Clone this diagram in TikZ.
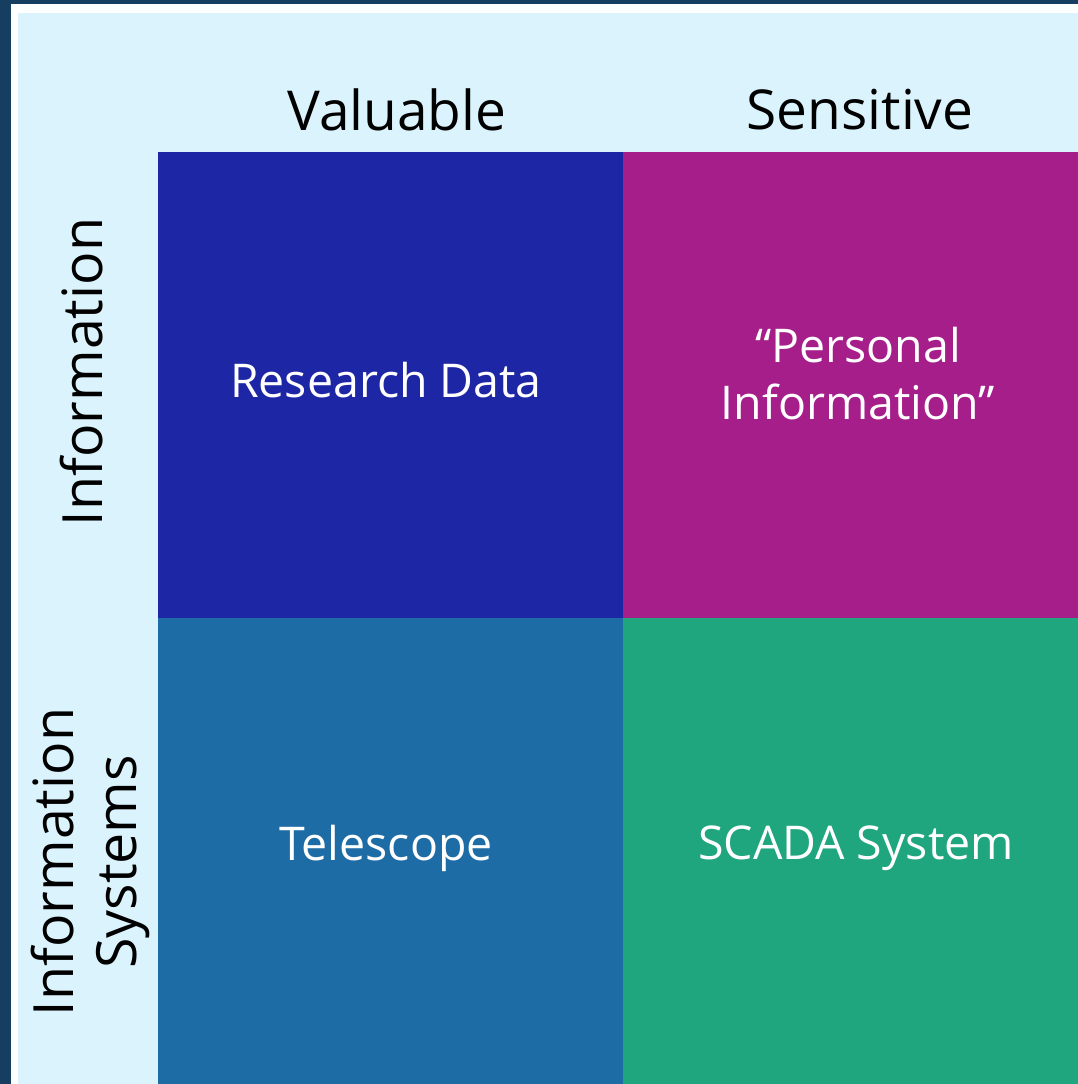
\documentclass[tikz,border=0pt]{standalone}
\usepackage{fontspec}
\setmainfont{Open Sans}
\definecolor{navy}{HTML}{163E60}
\definecolor{lightbg}{HTML}{DAF3FC}
\definecolor{cellA}{HTML}{1D26A4}
\definecolor{cellB}{HTML}{A61E8A}
\definecolor{cellC}{HTML}{1E6CA6}
\definecolor{cellD}{HTML}{1FA67E}
\begin{document}
\begin{tikzpicture}[x=1pt,y=-1pt,
  cell/.style={draw=none,minimum width=465pt,minimum height=466pt,inner sep=0pt,outer sep=0pt,anchor=north west},
  celltext/.style={text=white,font=\fontsize{46.5}{57}\selectfont,align=center},
  header/.style={text=black,font=\fontsize{55}{63}\selectfont},
  side/.style={text=black,font=\fontsize{55.5}{63}\selectfont,rotate=90,align=center}]
\useasboundingbox (0,0) rectangle (1078,1084);
\fill[navy] (0,0) rectangle (1078,1084);
\fill[white] (11,4) rectangle (1078,1084);
\fill[lightbg] (18,13) rectangle (1078,1084);
\node[cell,fill=cellA] (rd) at (158,152) {};
\node[cell,fill=cellB,minimum width=455pt] (pi) at (623,152) {};
\node[cell,fill=cellC] (tel) at (158,618) {};
\node[cell,fill=cellD,minimum width=455pt] (sc) at (623,618) {};
\node[celltext] (rdt) at (386,380) {Research Data};
\node[celltext] (pit) at (858,374) {``Personal\\Information''};
\node[celltext] (telt) at (386,848) {Telescope};
\node[celltext] (sct) at (856,848) {SCADA System};
\node[header] (val) at (397,110) {Valuable};
\node[header] (sen) at (860,110) {Sensitive};
\node[side] (inf) at (82,372) {Information};
\node[side] (infs) at (90,862) {Information\\Systems};
\end{tikzpicture}
\end{document}
